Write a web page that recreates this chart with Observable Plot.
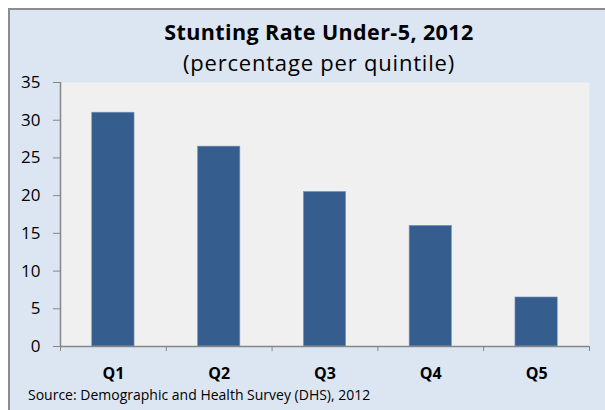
<!DOCTYPE html>
<html>
<head>
<meta charset="utf-8">
<script src="https://cdn.jsdelivr.net/npm/d3@7"></script>
<script src="https://cdn.jsdelivr.net/npm/@observablehq/plot@0.6"></script>
<style>
  html, body { margin: 0; padding: 0; }
  body { width: 605px; height: 410px; overflow: hidden; position: relative; background: #fff; font-family: "Open Sans", sans-serif; }
  #box { position: absolute; left: 8px; top: 8px; width: 640px; height: 440px; border: 2px solid #8c8c8c; background: #dce6f2; box-sizing: border-box; }
  .t { position: absolute; left: 0; width: 638px; text-align: center; line-height: 1; color: #000; white-space: nowrap; }
  #title { top: 20.9px; font-weight: bold; font-size: 21.5px; letter-spacing: 0.4px; }
  #subtitle { top: 50.5px; font-size: 22px; letter-spacing: 0.8px; }
  #source { position: absolute; left: 28px; top: 387.6px; font-size: 14px; line-height: 1; color: #000; white-space: nowrap; }
  #chart { position: absolute; left: 0; top: 0; }
</style>
</head>
<body>
<div id="box"></div>
<div class="t" id="title">Stunting Rate Under-5, 2012</div>
<div class="t" id="subtitle">(percentage per quintile)</div>
<div id="chart"></div>
<div id="source">Source: Demographic and Health Survey (DHS), 2012</div>
<script>
const categories = ["Q1", "Q2", "Q3", "Q4", "Q5"];
const values = [31.0, 26.5, 20.5, 16.0, 6.5];
const yTicks = [0, 5, 10, 15, 20, 25, 30, 35];

const n = categories.length;
const data = categories.map((c, i) => ({ i, c, v: values[i] }));

const chart = Plot.plot({
  width: 605,
  height: 410,
  marginLeft: 60,
  marginRight: 16,
  marginTop: 82,
  marginBottom: 64,
  style: { background: "transparent", fontFamily: "'Open Sans', sans-serif", fontSize: "17px", color: "#000", overflow: "visible" },
  x: { type: "linear", domain: [0, n], axis: null },
  y: { domain: [0, 35], axis: null },
  marks: [
    Plot.frame({ fill: "#f0f0f0", stroke: null }),
    Plot.rectY(data, { x1: d => d.i + 0.3, x2: d => d.i + 0.7, y1: 0, y2: "v", fill: "#355e8f", stroke: "#8099bd", strokeWidth: 0.6 }),
    Plot.axisY({ ticks: yTicks, tickSize: 7, tickPadding: 13, stroke: "#868686", fill: "#000", fontSize: 17, label: null }),
    Plot.ruleX([0], { stroke: "#868686", strokeWidth: 1.5 }),
    Plot.ruleY([0], { stroke: "#868686", strokeWidth: 1.5 }),
    Plot.axisX({ ticks: d3.range(0, n + 1), tickSize: 5, tickFormat: () => "", stroke: "#868686", label: null }),
    Plot.axisX({ ticks: categories.map((c, i) => i + 0.5), tickSize: 0, tickPadding: 21, tickFormat: v => categories[Math.floor(v)], fontWeight: "bold", fontSize: 16, fill: "#000", label: null })
  ]
});
document.getElementById("chart").appendChild(chart);
</script>
</body>
</html>
